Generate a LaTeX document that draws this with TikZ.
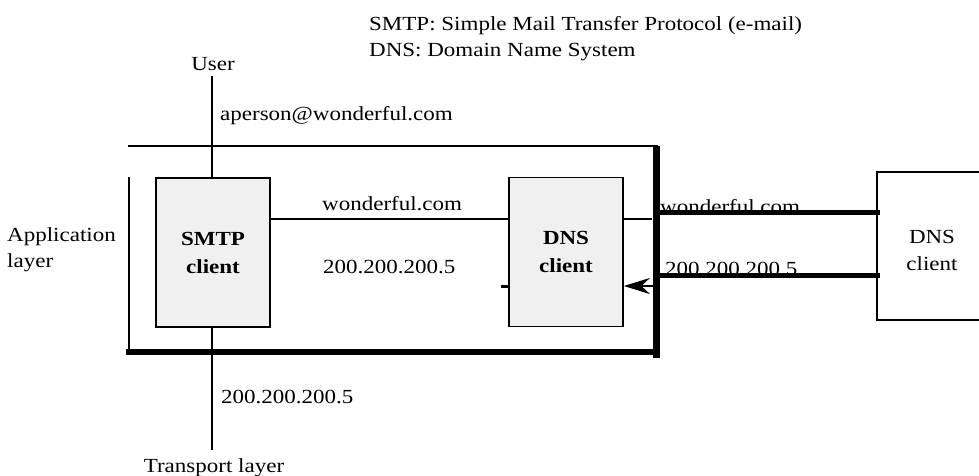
\documentclass[tikz,border=0pt]{standalone}
\usepackage{fontspec}
\setmainfont{Liberation Serif}[FakeStretch=1.15]
\usetikzlibrary{arrows.meta}
\begin{document}
\begin{tikzpicture}[x=1pt,y=-1pt,
  txt/.style={font=\fontsize{20}{26}\selectfont, inner sep=0pt},
  procbox/.style={draw, line width=1.6pt, fill=gray!12, minimum width=114pt, minimum height=149pt,
     inner sep=0pt, align=center, font=\fontsize{20}{28}\selectfont\bfseries},
  lnthin/.style={line width=1.5pt},
  lnmid/.style={line width=2.5pt},
  lnthick/.style={line width=6pt},
  lnbar/.style={line width=5pt}]
\useasboundingbox (0,0) rectangle (979,476);

% texts
\node[txt, anchor=base west] (head1) at (369,31) {SMTP: Simple Mail Transfer Protocol (e-mail)};
\node[txt, anchor=base west] (head2) at (369,57) {DNS: Domain Name System};
\node[txt, anchor=base] (user) at (213,71) {User};
\node[txt, anchor=base west] (addr) at (220,121) {aperson@wonderful.com};
\node[txt, anchor=west, align=left] (app) at (7,250) {Application\\layer};
\node[txt, anchor=base west] (mid1) at (322,210) {wonderful.com};
\node[txt, anchor=base west] (mid2) at (323,273) {200.200.200.5};
\node[txt, anchor=base west] (ip) at (221,403) {200.200.200.5};
\node[txt, anchor=base] (trans) at (214,472) {Transport layer};
\node[txt, anchor=base west] (r1) at (660,213) {wonderful.com};
\node[txt, anchor=base west] (r2) at (665,275) {200.200.200.5};
\node[txt, align=center, font=\fontsize{20}{27}\selectfont] (dnsr) at (932,250) {DNS\\client};

% coordinates
\coordinate (tlA) at (128,146);
\coordinate (trA) at (658,146);
\coordinate (lt) at (129,177);
\coordinate (lb) at (129,352);
\coordinate (bl) at (126,352);
\coordinate (br) at (660,352);
\coordinate (vt) at (656,146);
\coordinate (vb) at (656,358);
\coordinate (u0) at (212,76);
\coordinate (u1) at (212,450);
\coordinate (w0) at (656,212);
\coordinate (w1) at (880,212);
\coordinate (i0) at (656,275);
\coordinate (i1) at (880,275);
\coordinate (rb0) at (979,172);
\coordinate (rb1) at (877,172);
\coordinate (rb2) at (877,320);
\coordinate (rb3) at (979,320);
\coordinate (a0) at (654,286);
\coordinate (s0) at (501,286);
\coordinate (t0) at (652,219);

% user / transport line
\draw[lnmid] (u0) -- (u1);

% application box
\draw[line width=1.3pt] (tlA) -- (trA);
\draw[lnthin] (lt) -- (lb);
\draw[lnthick] (bl) -- (br);
\draw[line width=7pt] (vt) -- (vb);

% process boxes
\node[procbox] (smtp) at (213,252.5) {SMTP\\client};
\node[procbox] (dns) at (566,252) {DNS\\client};

% connectors
\draw[lnthin] (smtp.east |- 0,219) -- (dns.west |- 0,219);
\draw[lnthin] (dns.east |- 0,219) -- (t0);
\draw[lnmid, -{Stealth[length=26pt,width=16pt]}] (a0) -- (dns.east |- a0);
\draw[line width=3pt] (s0) -- (dns.west |- s0);

% right side
\draw[lnbar] (w0) -- (w1);
\draw[lnbar] (i0) -- (i1);
\draw[line width=1.8pt] (rb0) -- (rb1) -- (rb2) -- (rb3);
\end{tikzpicture}
\end{document}
